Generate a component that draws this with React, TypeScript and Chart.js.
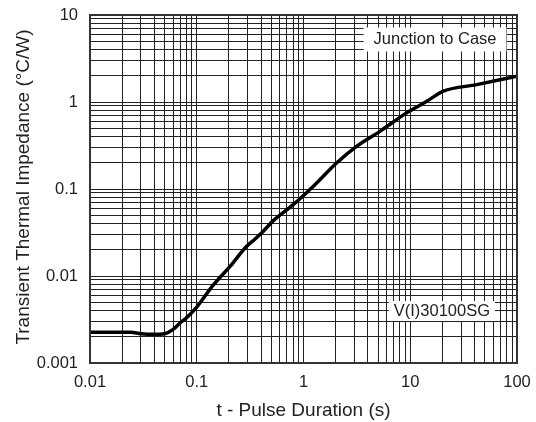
import React, { useEffect, useRef } from 'react';
import { Chart, registerables } from 'chart.js';

Chart.register(...registerables);

// Pulse duration (s) and transient thermal impedance (°C/W)
const pulseDuration = [0.01, 0.015, 0.024, 0.03, 0.04, 0.05, 0.06, 0.07, 0.08, 0.1, 0.142, 0.204, 0.292, 0.35, 0.418, 0.519, 0.8, 1.23, 2.04, 3.14, 5.2, 9.25, 14.3, 20.4, 42, 100];
const thermalImpedance = [0.00226, 0.00226, 0.00225, 0.00217, 0.00214, 0.00217, 0.00243, 0.0029, 0.0033, 0.0044, 0.0078, 0.0128, 0.0218, 0.0265, 0.0325, 0.043, 0.066, 0.107, 0.199, 0.309, 0.46, 0.75, 1.02, 1.33, 1.585, 1.98];

const xTickLabels = [0.01, 0.1, 1, 10, 100];
const yTickLabels = [0.001, 0.01, 0.1, 1, 10];

const xTitle = 't - Pulse Duration (s)';
const yTitle = 'Transient Thermal Impedance (°C/W)';
const noteTop = 'Junction to Case';
const noteBottom = 'V(I)30100SG';

const FONT = "'Liberation Sans', Arial, Helvetica, sans-serif";
const INK = '#222';

function logGrid(decades: number[]) {
  const out: number[] = [];
  for (let i = 0; i < decades.length; i++) {
    const d = decades[i];
    if (i === decades.length - 1) {
      out.push(d);
      break;
    }
    for (let k = 1; k < 10; k++) out.push(Number((d * k).toPrecision(3)));
  }
  return out;
}

const decorPlugin = {
  id: 'decor',
  afterDraw(chart: any) {
    const { ctx, chartArea } = chart;
    const { left, right, top, bottom } = chartArea;
    ctx.save();
    // frame
    ctx.strokeStyle = '#333';
    ctx.lineWidth = 2;
    ctx.strokeRect(left, top, right - left, bottom - top);

    // annotation boxes
    ctx.font = `16.5px ${FONT}`;
    ctx.textBaseline = 'middle';
    ctx.textAlign = 'center';
    const drawNote = (text: string, rx: number, cy: number, h: number, pad: number) => {
      const w = ctx.measureText(text).width + pad * 2;
      ctx.fillStyle = '#fff';
      ctx.fillRect(rx - w, cy - h / 2, w, h);
      ctx.fillStyle = INK;
      ctx.fillText(text, rx - w / 2, cy);
    };
    drawNote(noteTop, right - 10.5, top + 24.5, 24, 10);
    drawNote(noteBottom, right - 22, bottom - 52, 20, 5);

    // axis titles
    ctx.font = `19px ${FONT}`;
    ctx.fillStyle = INK;
    ctx.textAlign = 'center';
    ctx.textBaseline = 'middle';
    ctx.fillText(xTitle, (left + right) / 2, 411);
    ctx.translate(24, (top + bottom) / 2 - 2);
    ctx.rotate(-Math.PI / 2);
    ctx.fillText(yTitle, 0, 0);
    ctx.restore();
  },
};

const zeroPadding = (scale: any) => {
  scale.paddingTop = 0;
  scale.paddingBottom = 0;
  scale.paddingLeft = 0;
  scale.paddingRight = 0;
};

export default function App() {
  const ref = useRef<HTMLCanvasElement>(null);

  useEffect(() => {
    if (!ref.current) return;
    const xGrid = logGrid(xTickLabels);
    const yGrid = logGrid(yTickLabels);
    const chart = new Chart(ref.current, {
      type: 'line',
      data: {
        datasets: [
          {
            data: pulseDuration.map((x, i) => ({ x, y: thermalImpedance[i] })),
            borderColor: '#000',
            borderWidth: 3.5,
            pointRadius: 0,
            cubicInterpolationMode: 'monotone',
            fill: false,
          },
        ],
      },
      options: {
        animation: false,
        responsive: false,
        events: [],
        layout: { padding: { top: 15, right: 19, left: 0, bottom: 0 } },
        plugins: { legend: { display: false }, tooltip: { enabled: false } },
        scales: {
          x: {
            type: 'logarithmic',
            min: 0.01,
            max: 100,
            afterBuildTicks: (scale: any) => {
              scale.ticks = xGrid.map((v) => ({ value: v, major: xTickLabels.includes(v) }));
            },
            afterFit: (scale: any) => {
              scale.height = 59;
              zeroPadding(scale);
            },
            grid: { color: INK, lineWidth: 1, drawTicks: false },
            border: { display: false },
            ticks: {
              autoSkip: false,
              maxRotation: 0,
              padding: 10,
              color: INK,
              font: { family: FONT, size: 16.5 },
              callback: (v: any) => (xTickLabels.includes(v) ? String(v) : ''),
            },
          },
          y: {
            type: 'logarithmic',
            min: 0.001,
            max: 10,
            afterBuildTicks: (scale: any) => {
              scale.ticks = yGrid.map((v) => ({ value: v, major: yTickLabels.includes(v) }));
            },
            afterFit: (scale: any) => {
              scale.width = 90;
              zeroPadding(scale);
            },
            grid: { color: INK, lineWidth: 1, drawTicks: false },
            border: { display: false },
            ticks: {
              autoSkip: false,
              padding: 12,
              color: INK,
              font: { family: FONT, size: 16.5 },
              callback: (v: any) => (yTickLabels.includes(v) ? String(v) : ''),
            },
          },
        },
      },
      plugins: [decorPlugin],
    } as any);
    return () => chart.destroy();
  }, []);

  return (
    <div style={{ position: 'fixed', left: 0, top: 0, width: 536, height: 422, background: '#fff' }}>
      <canvas ref={ref} width={536} height={422} style={{ width: 536, height: 422, display: 'block' }} />
    </div>
  );
}
